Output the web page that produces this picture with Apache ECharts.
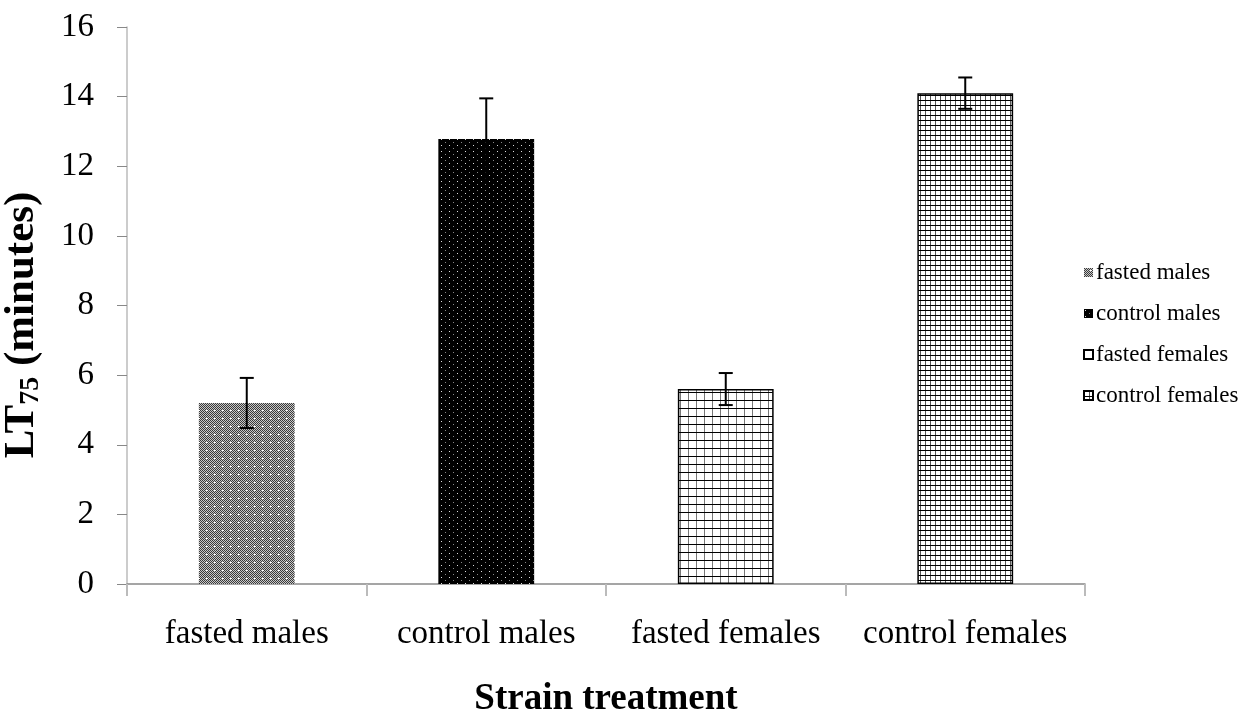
<!DOCTYPE html>
<html><head><meta charset="utf-8">
<script src="https://cdn.jsdelivr.net/npm/echarts@6/dist/echarts.min.js"></script>
<style>html,body{margin:0;padding:0;background:#fff}#c{width:1259px;height:717px}</style>
</head><body><div id="c"></div>
<script>
const categories = ['fasted males', 'control males', 'fasted females', 'control females'];
const values = [5.2, 12.78, 5.6, 14.1];
const errors = [0.72, 1.17, 0.46, 0.45];
const yTicks = [0, 2, 4, 6, 8, 10, 12, 14, 16];

function mk(w, h, draw) {
  const c = document.createElement('canvas');
  c.width = w; c.height = h;
  const g = c.getContext('2d');
  draw(g, w, h);
  return c;
}
const patFastedMales = mk(8, 8, (g, w, h) => {
  for (let y = 0; y < h; y++) for (let x = 0; x < w; x++) {
    g.fillStyle = ((x + y) % 2 === 0) ? '#3a3a3a' : '#c8c8c8';
    g.fillRect(x, y, 1, 1);
  }
  g.fillStyle = '#ffffff'; g.fillRect(6, 2, 2, 1);
});
const patControlMales = mk(8, 6, (g, w, h) => {
  g.fillStyle = '#000'; g.fillRect(0, 0, w, h);
  g.fillStyle = '#dddddd'; g.fillRect(1, 1, 1, 1);
  g.fillStyle = '#888'; g.fillRect(5, 4, 1, 1);
});
const patFastedFemales = mk(8, 8, (g, w, h) => {
  g.fillStyle = '#fff'; g.fillRect(0, 0, w, h);
  g.fillStyle = '#777'; g.fillRect(0, 0, 1, h);
  g.fillStyle = '#000'; g.fillRect(0, 0, w, 1);
});
const patControlFemales = mk(5, 5, (g, w, h) => {
  g.fillStyle = '#fff'; g.fillRect(0, 0, w, h);
  g.fillStyle = '#555'; g.fillRect(0, 0, 1, h);
  g.fillStyle = '#000'; g.fillRect(0, 0, w, 1);
});
const patterns = [patFastedMales, patControlMales, patFastedFemales, patControlFemales];
const borders = [0, 0, 1.5, 1.5];

const serif = '"Liberation Serif", "DejaVu Serif", serif';
const chart = echarts.init(document.getElementById('c'));

const barSeries = categories.map((name, i) => ({
  name: name,
  type: 'bar',
  barWidth: '40%',
  barGap: '-100%',
  itemStyle: { color: { image: patterns[i], repeat: 'repeat' }, borderColor: '#000', borderWidth: borders[i] },
  data: categories.map((c, j) => j === i ? values[i] : '-'),
  z: 2
}));

const errSeries = {
  type: 'custom',
  z: 5,
  data: values.map((v, i) => [i, v, errors[i]]),
  renderItem: function (params, api) {
    const i = api.value(0), v = api.value(1), e = api.value(2);
    const top = api.coord([i, v + e]);
    const bot = api.coord([i, v - e]);
    const hw = 7;
    const st = { stroke: '#000', lineWidth: 2 };
    return {
      type: 'group',
      children: [
        { type: 'line', shape: { x1: top[0], y1: top[1], x2: bot[0], y2: bot[1] }, style: st },
        { type: 'line', shape: { x1: top[0] - hw, y1: top[1], x2: top[0] + hw, y2: top[1] }, style: st },
        { type: 'line', shape: { x1: bot[0] - hw, y1: bot[1], x2: bot[0] + hw, y2: bot[1] }, style: st }
      ]
    };
  }
};

chart.setOption({
  animation: false,
  backgroundColor: '#fff',
  grid: { left: 127, right: 174, top: 27, bottom: 133, outerBoundsMode: 'none', containLabel: false },
  legend: {
    orient: 'vertical',
    left: 1078, top: 256,
    icon: 'rect',
    itemWidth: 9, itemHeight: 9, itemGap: 18,
    data: categories,
    textStyle: { fontFamily: serif, fontSize: 23, color: '#000', padding: [0, 0, 0, -2] }
  },
  graphic: [{
    type: 'text',
    x: 22, y: 325,
    rotation: Math.PI / 2,
    style: {
      text: '{a|LT}{s|75}{a| (minutes)}',
      align: 'center', verticalAlign: 'middle',
      rich: {
        a: { fontFamily: serif, fontSize: 43, fontWeight: 'bold', fill: '#000' },
        s: { fontFamily: serif, fontSize: 28, fontWeight: 'bold', fill: '#000', padding: [18, 0, 0, 0] }
      }
    }
  }],
  xAxis: {
    type: 'category',
    data: categories,
    axisLine: { lineStyle: { color: '#888', width: 1.5 } },
    axisTick: { show: true, interval: 0, length: 12, lineStyle: { color: '#bbb', width: 2 } },
    axisLabel: { interval: 0, fontFamily: serif, fontSize: 33, color: '#000', margin: 34 },
    name: 'Strain treatment',
    nameLocation: 'middle',
    nameGap: 97,
    nameTextStyle: { fontFamily: serif, fontSize: 37, fontWeight: 'bold', color: '#000' }
  },
  yAxis: {
    type: 'value',
    min: 0, max: 16, interval: 2,
    axisLine: { show: true, lineStyle: { color: '#bbb', width: 1.5 } },
    axisTick: { show: true, length: 10, lineStyle: { color: '#888' } },
    splitLine: { show: false },
    axisLabel: { fontFamily: serif, fontSize: 33, color: '#000', margin: 33,
      formatter: v => yTicks.includes(v) ? String(v) : '' }
  },
  series: barSeries.concat([errSeries])
});
</script></body></html>
